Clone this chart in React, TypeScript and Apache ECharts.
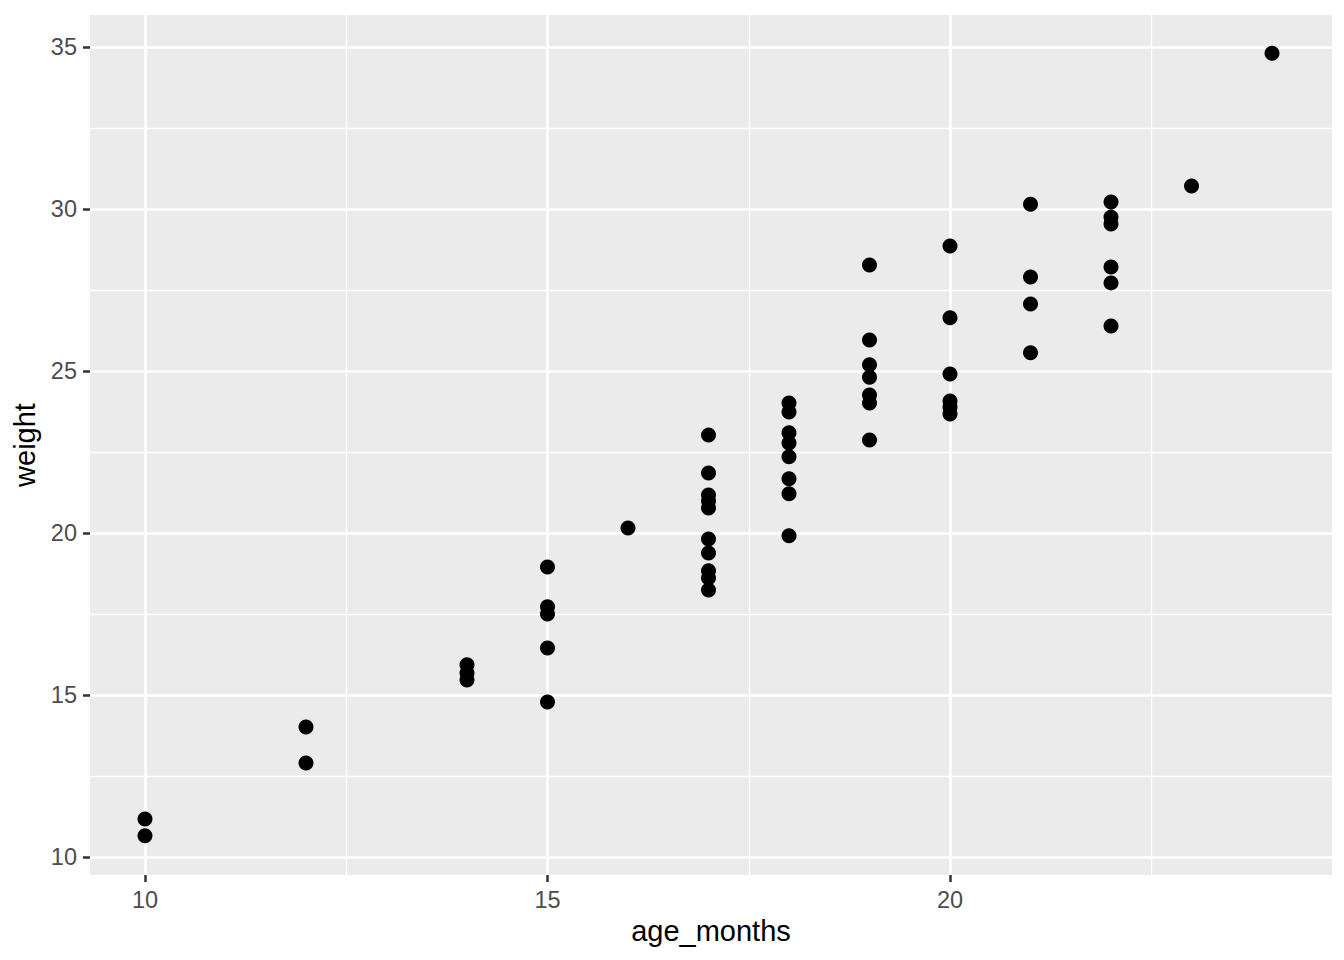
import React, { useEffect, useRef } from "react";
import * as echarts from "echarts";

const ageMonths = [
  10, 10,
  12, 12,
  14, 14, 14,
  15, 15, 15, 15, 15,
  16,
  17, 17, 17, 17, 17, 17, 17, 17, 17, 17,
  18, 18, 18, 18, 18, 18, 18, 18,
  19, 19, 19, 19, 19, 19, 19,
  20, 20, 20, 20, 20, 20,
  21, 21, 21, 21,
  22, 22, 22, 22, 22, 22,
  23,
  24,
];
const weight = [
  11.17, 10.65,
  14.01, 12.9,
  15.93, 15.68, 15.46,
  18.95, 17.72, 17.5, 16.45, 14.78,
  20.15,
  23.02, 21.85, 21.17, 20.99, 20.77, 19.81, 19.38, 18.83, 18.61, 18.24,
  24.01, 23.73, 23.09, 22.78, 22.35, 21.67, 21.21, 19.91,
  28.27, 25.96, 25.19, 24.81, 24.26, 24.01, 22.87,
  28.86, 26.64, 24.91, 24.07, 23.89, 23.67,
  30.15, 27.9, 27.07, 25.56,
  30.22, 29.75, 29.54, 28.21, 27.72, 26.39,
  30.71,
  34.81,
];

const xTicks = [10, 15, 20];
const xMinor = [12.5, 17.5, 22.5];
const yTicks = [10, 15, 20, 25, 30, 35];
const yMinor = [12.5, 17.5, 22.5, 27.5, 32.5];

export default function App() {
  const ref = useRef<HTMLDivElement>(null);
  useEffect(() => {
    if (!ref.current) return;
    const chart = echarts.init(ref.current, null, { renderer: "svg" });
    const points = ageMonths.map((a, i) => [a, weight[i]]);
    const gridLine = (axis: "xAxis" | "yAxis", vals: number[], w: number) =>
      vals.map((v) => ({ [axis]: v, lineStyle: { color: "#FFFFFF", width: w, type: "solid" } }));
    const font = "Liberation Sans, Arial, Helvetica, sans-serif";
    chart.setOption({
      animation: false,
      backgroundColor: "#FFFFFF",
      grid: {
        left: 90,
        right: 12,
        top: 15,
        bottom: 85,
        show: true,
        backgroundColor: "#EBEBEB",
        borderWidth: 0,
      },
      xAxis: {
        type: "value",
        min: 9.317,
        max: 24.745,
        name: "age_months",
        nameLocation: "middle",
        nameGap: 40,
        nameTextStyle: { color: "#000000", fontSize: 29, fontFamily: font },
        axisLine: { show: false },
        splitLine: { show: false },
        axisTick: {
          show: true,
          length: 7,
          customValues: xTicks,
          lineStyle: { color: "#333333", width: 2.5 },
        },
        axisLabel: {
          customValues: xTicks,
          margin: 13,
          color: "#4D4D4D",
          fontSize: 23.5,
          fontFamily: font,
        },
      },
      yAxis: {
        type: "value",
        min: 9.44,
        max: 35.99,
        name: "weight",
        nameLocation: "middle",
        nameGap: 50,
        nameRotate: 90,
        nameTextStyle: { color: "#000000", fontSize: 29, fontFamily: font },
        axisLine: { show: false },
        splitLine: { show: false },
        axisTick: {
          show: true,
          length: 7,
          customValues: yTicks,
          lineStyle: { color: "#333333", width: 2.5 },
        },
        axisLabel: {
          customValues: yTicks,
          margin: 13,
          color: "#4D4D4D",
          fontSize: 23.5,
          fontFamily: font,
        },
      },
      series: [
        {
          type: "scatter",
          data: [],
          silent: true,
          markLine: {
            silent: true,
            symbol: "none",
            label: { show: false },
            emphasis: { disabled: true },
            data: [
              ...gridLine("xAxis", xMinor, 1.3),
              ...gridLine("yAxis", yMinor, 1.3),
              ...gridLine("xAxis", xTicks, 2.6),
              ...gridLine("yAxis", yTicks, 2.6),
            ],
          },
        },
        {
          type: "scatter",
          data: points,
          symbol: "circle",
          symbolSize: 15,
          itemStyle: { color: "#000000", opacity: 1 },
          z: 5,
        },
      ],
    });
    return () => chart.dispose();
  }, []);
  return (
    <div
      ref={ref}
      style={{ position: "absolute", left: 0, top: 0, width: 1344, height: 960 }}
    />
  );
}
